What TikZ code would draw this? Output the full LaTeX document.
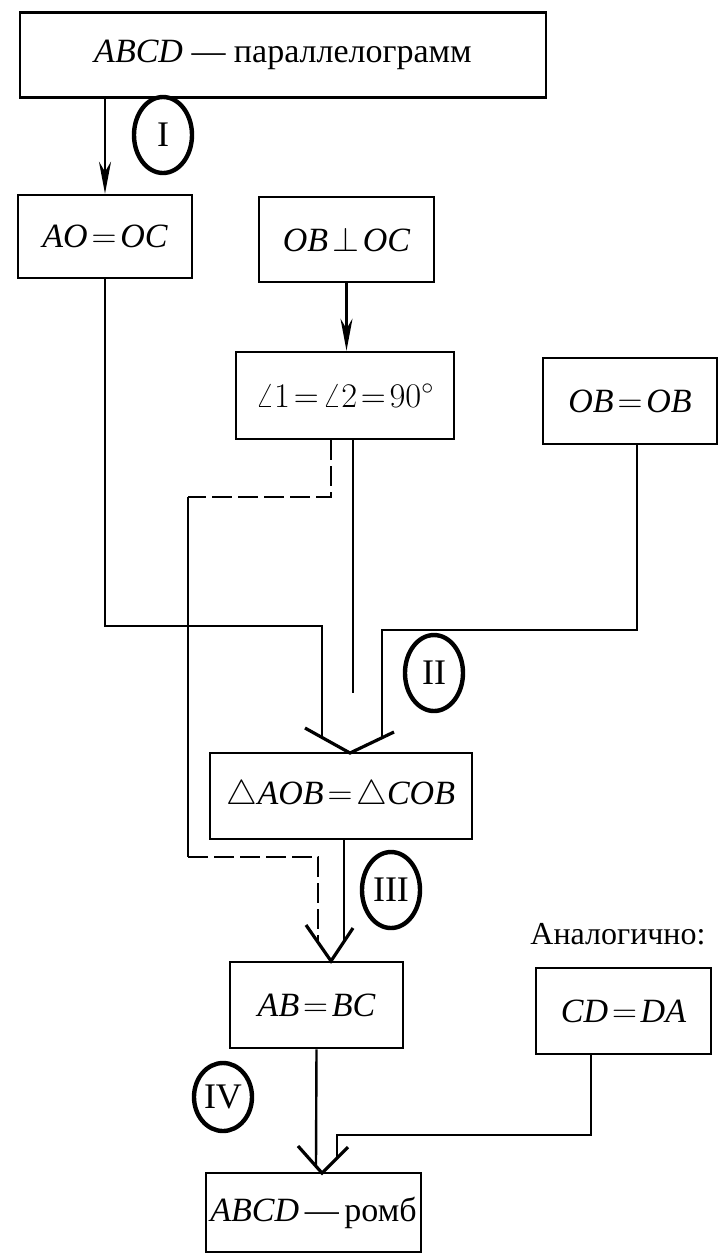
\documentclass[tikz,border=0pt]{standalone}
\usepackage{fontspec}
\setmainfont{Liberation Serif}
\usetikzlibrary{arrows.meta,shapes.geometric,calc}
\newcommand{\tightmath}{\thickmuskip=2mu\relax\medmuskip=2mu\relax}

\begin{document}
\begin{tikzpicture}[
  x=0.5pt, y=-0.5pt,
  blk/.style={draw, line width=1.3pt, inner sep=0pt,
    font={\fontsize{17}{20}\selectfont\tightmath}},
  num/.style={draw, ellipse, line width=2.2pt, inner sep=0pt, minimum width=29pt,
    minimum height=38pt, font=\fontsize{18}{20}\selectfont},
  ln/.style={line width=1.2pt},
  dsh/.style={line width=1.2pt, dash pattern=on 10pt off 3pt},
  vee/.style={line width=1.6pt, line join=miter},
  >={Stealth[length=16pt,width=6pt,inset=5pt]}
]
\useasboundingbox (0,0) rectangle (719,1260);

\node[blk, minimum width=263pt, minimum height=42.5pt] (top) at (283,55) {$\mathit{ABCD}$ — параллелограмм};
\node[blk, minimum width=87pt, minimum height=41.5pt] (ao) at (105,236.5) {$\mathit{AO}=\mathit{OC}$};
\node[blk, minimum width=87.5pt, minimum height=42.5pt] (perp) at (346.5,239.5) {$\mathit{OB}\perp\mathit{OC}$};
\node[blk, minimum width=109pt, minimum height=43.5pt] (ang) at (345,395.5) {$\angle 1=\angle 2=90^\circ$};
\node[blk, minimum width=87pt, minimum height=43pt] (obob) at (630,401) {$\mathit{OB}=\mathit{OB}$};
\node[blk, minimum width=131pt, minimum height=43pt] (tri) at (341,796) {$\triangle\mathit{AOB}=\triangle\mathit{COB}$};
\node[blk, minimum width=86.5pt, minimum height=43pt] (abbc) at (316.5,1005) {$\mathit{AB}=\mathit{BC}$};
\node[font=\fontsize{16}{19}\selectfont] (anal) at (618,934) {Аналогично:};
\node[blk, minimum width=87.5pt, minimum height=43pt] (cdda) at (623.5,1011) {$\mathit{CD}=\mathit{DA}$};
\node[blk, minimum width=107.5pt, minimum height=39.5pt] (romb) at (313.5,1212.5) {$\mathit{ABCD}$\,—\,ромб};

\node[num] (n1) at (163,135) {I};
\node[num] (n2) at (434,673) {II};
\node[num] (n3) at (391,890) {III};
\node[num, minimum height=34pt] (n4) at (223,1097) {IV};

\coordinate (v2) at (350,753);
\coordinate (v3) at (331,961);
\coordinate (v4) at (322,1173);
\coordinate (e2) at (353,693);

\draw[ln,->] (top.south -| ao.north) -- (ao.north);
\draw[ln,->] (perp.south) -- (perp.south |- ang.north);

\draw[ln] (ao.south) |- (322,626) -- (322,737);
\draw[ln] ($(ang.south)+(8,0)$) -- (e2);
\draw[ln] ($(obob.south)+(7,0)$) |- (382,630) -- (382,738);
\draw[vee] (305,728) -- (v2) -- (394,732);

\draw[dsh] ($(ang.south)+(-14,0)$) |- (188,497);
\draw[ln] (188,497) -- (188,857);
\draw[dsh] (188,857) -| (318,942);
\draw[ln] ($(tri.south)+(3,0)$) -- (344,941);
\draw[vee] (306,925) -- (v3) -- (353,928);

\draw[ln] (abbc.south) -- (316,1166);
\draw[ln] ($(cdda.south)+(-32.5,0)$) |- (337,1135) -- (337,1158);
\draw[vee] (298,1146) -- (v4) -- (348,1147);
\end{tikzpicture}
\end{document}
